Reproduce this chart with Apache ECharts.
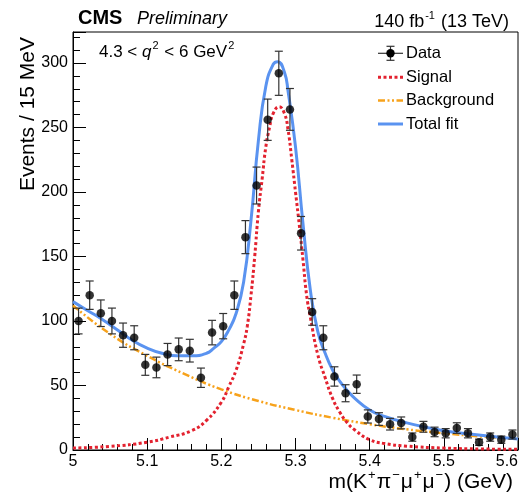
<!DOCTYPE html>
<html><head><meta charset="utf-8">
<script src="https://cdn.jsdelivr.net/npm/echarts@6/dist/echarts.min.js"></script>
<style>html,body{margin:0;padding:0;background:#fff}#c{width:529px;height:499px}</style>
</head><body><div id="c"></div>
<script>
// ---- data ----
const binCenters = [5.0075,5.0225,5.0375,5.0525,5.0675,5.0825,5.0975,5.1125,5.1275,5.1425,
  5.1575,5.1725,5.1875,5.2025,5.2175,5.2325,5.2475,5.2625,5.2775,5.2925,
  5.3075,5.3225,5.3375,5.3525,5.3675,5.3825,5.3975,5.4125,5.4275,5.4425,
  5.4575,5.4725,5.4875,5.5025,5.5175,5.5325,5.5475,5.5625,5.5775,5.5925];
const counts = [100,120,106,100,89,87,66,64,74,78,
  77,56,91,96,120,165,205,256,292,264,
  168,107,87,57,44,51,26,24,20,21,
  10,18,14,13,17,13,6,10,8,12];
const errors = [10,11,10.3,10,9.4,9.3,8.1,8,8.6,8.8,
  8.8,7.5,9.5,9.8,11,12.8,14.3,16,17.1,16.2,
  13,10.3,9.3,7.5,6.6,7.1,5.1,4.9,4.5,4.6,
  3.2,4.2,3.7,3.6,4.1,3.6,2.4,3.2,2.8,3.5];

const sigX = [5.00,5.05,5.10,5.13,5.16,5.18,5.20,5.21,5.22,5.23,5.235,5.24,5.245,5.25,5.255,5.26,5.265,5.27,5.278,5.285,5.29,5.295,5.30,5.305,5.31,5.315,5.32,5.33,5.34,5.35,5.36,5.37,5.38,5.40,5.42,5.45,5.50,5.55,5.60];
const sigY = [1.5,2.8,6,10,15,23,37,49,62,82,96,120,150,185,210,235,250,261,266,261,248,225,200,175,148,120,103,74,56,40,29,21,15.5,8,5,3,1.5,0.8,0.5];

const bkgX = [5.00,5.05,5.10,5.15,5.20,5.25,5.30,5.35,5.40,5.45,5.50,5.55,5.60];
const bkgY = [112,90,73,59,47,38,31,25,20,16,13,10.5,8.5];

const totX = [5.00,5.02,5.04,5.06,5.08,5.10,5.12,5.14,5.16,5.18,5.19,5.20,5.21,5.22,5.23,5.24,5.25,5.26,5.27,5.276,5.285,5.29,5.30,5.31,5.32,5.33,5.34,5.35,5.36,5.37,5.38,5.40,5.42,5.45,5.50,5.55,5.60];
const totY = [115,108,101,93,85,79,75,73,73,75,79,84,93,106,130,178,240,282,299,301,293,278,235,176,124,92,75,62,53,46,40,31,26,21,15,11.5,8.5];

const legendNames = ['Data','Signal','Background','Total fit'];

// ---- styling ----
const FONT = '"Liberation Sans", Arial, Helvetica, sans-serif';
const C_SIG = '#e3222f', C_BKG = '#f7a21b', C_TOT = '#5a93f0', C_ERR = '#333333';

const pairs = (xs, ys) => xs.map((x, i) => [x, ys[i]]);

const chart = echarts.init(document.getElementById('c'), null, {renderer: 'canvas'});

function supRich(size, supSize) {
  return {
    n: {fontSize: size, fontFamily: FONT, color: '#000', lineHeight: size + 3, verticalAlign: 'bottom'},
    i: {fontSize: size, fontFamily: FONT, fontStyle: 'italic', color: '#000', lineHeight: size + 3, verticalAlign: 'bottom'},
    s: {fontSize: supSize, fontFamily: FONT, color: '#000', lineHeight: supSize, verticalAlign: 'top', padding: [0, 1, 0, 1]}
  };
}

const legY = [53.3, 77.3, 100.5, 124];
const legX0 = 378, legX1 = 403, legTX = 406;

const graphics = [
  {type: 'text', x: 78, y: 18, style: {text: 'CMS', font: 'bold 20px ' + FONT, fill: '#000', verticalAlign: 'middle'}},
  {type: 'text', x: 137, y: 18.5, style: {text: 'Preliminary', font: 'italic 18px ' + FONT, fill: '#000', verticalAlign: 'middle'}},
  {type: 'text', x: 509, y: 20.5, style: {text: '{n|140 fb}{s|-1}{n| (13 TeV)}', rich: supRich(18, 11), align: 'right', verticalAlign: 'middle'}},
  {type: 'text', x: 99, y: 50.4, style: {text: '{n|4.3 < }{i|q}{s|2}{n| < 6 GeV}{s|2}', rich: supRich(17, 11), align: 'left', verticalAlign: 'middle'}},
  {type: 'text', x: 513, y: 480.5, style: {text: '{n|m(K}{s|+}{n|π}{s|−}{n|μ}{s|+}{n|μ}{s|−}{n|) (GeV)}', rich: supRich(21, 13), align: 'right', verticalAlign: 'middle'}},
  {type: 'text', x: 28, y: 37, rotation: Math.PI / 2, style: {text: 'Events / 15 MeV', font: '21px ' + FONT, fill: '#000', align: 'right', verticalAlign: 'middle'}},
  // legend
  {type: 'line', shape: {x1: legX0, y1: legY[0], x2: legX1, y2: legY[0]}, style: {stroke: C_ERR, lineWidth: 1.2}},
  {type: 'line', shape: {x1: 390.5, y1: legY[0] - 7, x2: 390.5, y2: legY[0] + 7}, style: {stroke: C_ERR, lineWidth: 1.2}},
  {type: 'line', shape: {x1: 386.5, y1: legY[0] - 7, x2: 394.5, y2: legY[0] - 7}, style: {stroke: C_ERR, lineWidth: 1.2}},
  {type: 'line', shape: {x1: 386.5, y1: legY[0] + 7, x2: 394.5, y2: legY[0] + 7}, style: {stroke: C_ERR, lineWidth: 1.2}},
  {type: 'circle', shape: {cx: 390.5, cy: legY[0], r: 4.2}, style: {fill: '#000'}},
  {type: 'line', shape: {x1: legX0, y1: legY[1], x2: legX1, y2: legY[1]}, style: {stroke: C_SIG, lineWidth: 3, lineDash: [3, 2.5]}},
  {type: 'line', shape: {x1: legX0, y1: legY[2], x2: legX1, y2: legY[2]}, style: {stroke: C_BKG, lineWidth: 2.5, lineDash: [7, 2.5, 2, 2.5, 2, 2.5]}},
  {type: 'line', shape: {x1: legX0, y1: legY[3], x2: legX1, y2: legY[3]}, style: {stroke: C_TOT, lineWidth: 3}}
];
legendNames.forEach((nm, k) => {
  graphics.push({type: 'text', x: legTX, y: legY[k], style: {text: nm, font: '16.5px ' + FONT, fill: '#000', verticalAlign: 'middle'}});
});

const option = {
  animation: false,
  backgroundColor: '#fff',
  grid: {left: 73, right: 11, top: 32, bottom: 49, show: true, borderColor: '#000', borderWidth: 1, backgroundColor: 'transparent'},
  xAxis: {
    type: 'value', min: 5, max: 5.6, interval: 0.1,
    axisLine: {lineStyle: {color: '#000', width: 1}},
    axisTick: {inside: true, length: 12, lineStyle: {color: '#000', width: 1}},
    minorTick: {show: true, splitNumber: 5, length: 6, lineStyle: {color: '#000', width: 1}},
    splitLine: {show: false},
    axisLabel: {color: '#000', fontSize: 16, fontFamily: FONT, margin: 4, alignMaxLabel: 'right'}
  },
  yAxis: {
    type: 'value', min: 0, max: 324, interval: 50,
    axisLine: {show: true, lineStyle: {color: '#000', width: 1}},
    axisTick: {show: true, inside: true, length: 13, lineStyle: {color: '#000', width: 1}},
    minorTick: {show: true, splitNumber: 5, length: 7, lineStyle: {color: '#000', width: 1}},
    splitLine: {show: false},
    axisLabel: {color: '#000', fontSize: 16, fontFamily: FONT, margin: 5, showMaxLabel: false}
  },
  graphic: graphics,
  series: [
    {name: 'Background', type: 'line', data: pairs(bkgX, bkgY), showSymbol: false, smooth: 0.5,
      lineStyle: {color: C_BKG, width: 2.5, type: [7, 2.5, 2, 2.5, 2, 2.5]}, z: 3},
    {name: 'Signal', type: 'line', data: pairs(sigX, sigY), showSymbol: false, smooth: 0.5,
      lineStyle: {color: C_SIG, width: 3, type: [3, 2.5]}, z: 4},
    {name: 'Total fit', type: 'line', data: pairs(totX, totY), showSymbol: false, smooth: 0.5,
      lineStyle: {color: C_TOT, width: 3}, z: 5},
    {name: 'Errors', type: 'custom', z: 6,
      data: binCenters.map((x, i) => [x, counts[i], errors[i]]),
      encode: {x: 0, y: 1},
      renderItem: function (params, api) {
        const x = api.value(0), y = api.value(1), e = api.value(2);
        const lo = api.coord([x, y - e]), hi = api.coord([x, y + e]);
        const cap = 4, st = {stroke: C_ERR, lineWidth: 1.2};
        return {type: 'group', children: [
          {type: 'line', shape: {x1: lo[0], y1: lo[1], x2: hi[0], y2: hi[1]}, style: st},
          {type: 'line', shape: {x1: lo[0] - cap, y1: lo[1], x2: lo[0] + cap, y2: lo[1]}, style: st},
          {type: 'line', shape: {x1: hi[0] - cap, y1: hi[1], x2: hi[0] + cap, y2: hi[1]}, style: st}
        ]};
      }
    },
    {name: 'Data', type: 'scatter', data: pairs(binCenters, counts), symbol: 'circle', symbolSize: 8.5,
      itemStyle: {color: '#000'}, z: 7}
  ]
};
chart.setOption(option);
</script>
</body></html>
